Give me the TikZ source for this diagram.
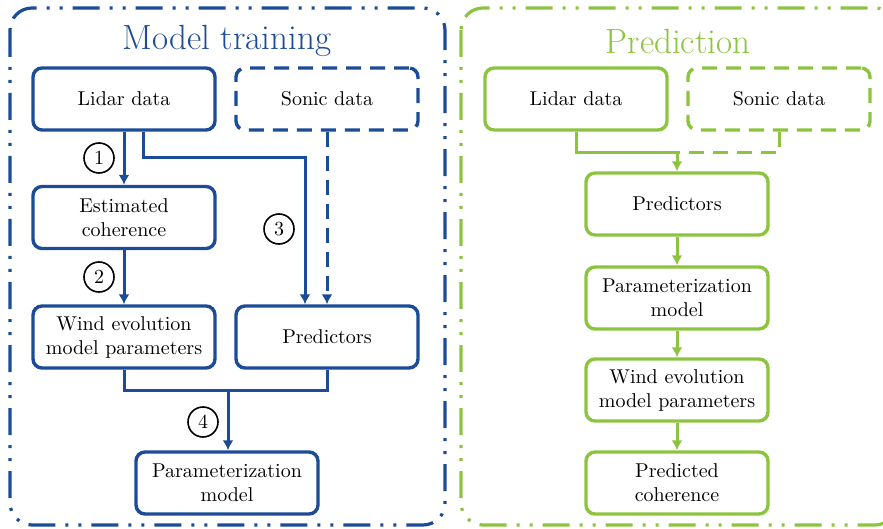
\documentclass[tikz,border=0pt]{standalone}
\usetikzlibrary{arrows.meta}
\definecolor{trainblue}{HTML}{1C4B98}
\definecolor{predgreen}{HTML}{8CC43F}
\begin{document}
\begin{tikzpicture}[x=0.5pt,y=-0.5pt,
  stepbox/.style={draw=#1, line width=1.7pt, rounded corners=4.5pt,
    minimum width=91pt, minimum height=31pt, align=center, inner sep=2pt,
    font=\normalsize, text=black},
  dashbox/.style={stepbox=#1, dash pattern=on 7.5pt off 4.5pt},
  panel/.style={draw=#1, line width=1.6pt, rounded corners=11pt,
    dash pattern=on 13.5pt off 5pt on 1.5pt off 5pt on 1.5pt off 5pt},
  flow/.style={draw=#1, line width=1.5pt, -{Latex[length=5pt,width=5.5pt]}},
  dflow/.style={flow=#1, dash pattern=on 7.5pt off 4.5pt},
  joint/.style={draw=#1, line width=1.5pt},
  djoint/.style={joint=#1, dash pattern=on 7.5pt off 4.5pt},
  stepnum/.style={draw, circle, line width=0.8pt, minimum size=15pt, inner sep=0pt, font=\normalsize},
  title/.style={font=\fontsize{17.5}{20}\selectfont, text=#1}
]
\useasboundingbox (0,0) rectangle (883,529);
\clip (0,0) rectangle (883,529);

% --- panels ---
\draw[panel=trainblue] (10,8) rectangle (445,525);
\draw[panel=predgreen] (461,8) rectangle (897,525);
\node[title=trainblue] (ttrain) at (227,41) {Model training};
\node[title=predgreen] (tpred) at (678,41) {Prediction};

% --- training nodes ---
\node[stepbox=trainblue] (lidarL) at (124,99) {Lidar data};
\node[dashbox=trainblue] (sonicL) at (327,99) {Sonic data};
\node[stepbox=trainblue] (estL) at (124,217.5) {Estimated\\coherence};
\node[stepbox=trainblue] (windL) at (124,337) {Wind evolution\\model parameters};
\node[stepbox=trainblue] (predL) at (327,337) {Predictors};
\node[stepbox=trainblue] (paramL) at (227,483) {Parameterization\\model};

% --- training connectors ---
\draw[flow=trainblue] (lidarL) -- (estL);
\draw[flow=trainblue] (estL) -- (windL);
\coordinate (lbr) at (143,158);
\coordinate (lbr2) at (305,158);
\draw[flow=trainblue] (lidarL.south -| lbr) -- (lbr) -- (lbr2) -- (lbr2 |- predL.north);
\draw[dflow=trainblue] (sonicL) -- (predL);
\coordinate (jn) at (228,390);
\draw[joint=trainblue] (windL.south) |- (jn) -| (predL.south);
\draw[flow=trainblue] (jn) -- (jn |- paramL.north);

\node[stepnum] (n1) at (99,158) {1};
\node[stepnum] (n2) at (99,277) {2};
\node[stepnum] (n3) at (279,229) {3};
\node[stepnum] (n4) at (203,422) {4};

% --- prediction nodes ---
\node[stepbox=predgreen] (lidarR) at (576,99) {Lidar data};
\node[dashbox=predgreen] (sonicR) at (779,99) {Sonic data};
\node[stepbox=predgreen] (predR) at (677,204) {Predictors};
\node[stepbox=predgreen] (paramR) at (677,298) {Parameterization\\model};
\node[stepbox=predgreen] (windR) at (677,390) {Wind evolution\\model parameters};
\node[stepbox=predgreen] (cohR) at (677,483) {Predicted\\coherence};

% --- prediction connectors ---
\coordinate (jr) at (677,153);
\draw[djoint=predgreen] (sonicR.south) |- (jr);
\draw[joint=predgreen] (lidarR.south) |- (jr);
\draw[flow=predgreen] (jr) -- (predR.north);
\draw[flow=predgreen] (predR) -- (paramR);
\draw[flow=predgreen] (paramR) -- (windR);
\draw[flow=predgreen] (windR) -- (cohR);
\end{tikzpicture}
\end{document}
